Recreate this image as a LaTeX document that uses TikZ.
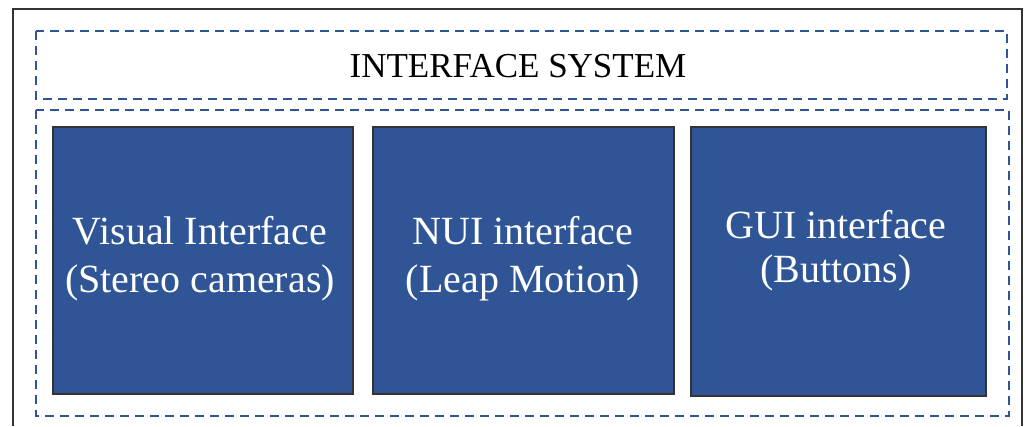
\documentclass[tikz,border=0pt]{standalone}
\usepackage{fontspec}
\setmainfont{Liberation Serif}
\definecolor{boxblue}{HTML}{2F5597}
\definecolor{edgegrey}{HTML}{333333}
\tikzset{
  frame/.style={draw=edgegrey, line width=2pt},
  groupbox/.style={draw=boxblue, line width=2pt, dash pattern=on 9pt off 6pt},
  unitbox/.style={draw=edgegrey, fill=boxblue, line width=1.5pt},
  unittext/.style={text=white, align=center, inner sep=0pt, font={\fontsize{40}{48}\selectfont}},
  titletext/.style={text=black, inner sep=0pt, anchor=base, font={\fontsize{35}{40}\selectfont}}
}
\begin{document}
\begin{tikzpicture}[x=1pt, y=-1pt]
  \useasboundingbox (0,0) rectangle (1026,426);
  % outer frame, open at the bottom
  \draw[frame] (13,426) -- (13,9) -- (1022,9) -- (1022,426);
  % header and body groups
  \draw[groupbox] (36,31) rectangle (1007,99);
  \draw[groupbox] (36,110) rectangle (1009,416);
  \node[titletext] (title) at (518,77) {INTERFACE SYSTEM};
  % interface units
  \draw[unitbox] (53,127) rectangle (353,394);
  \draw[unitbox] (373,127) rectangle (674,394);
  \draw[unitbox] (691,127) rectangle (986,396);
  \node[unittext] (visual) at (200,259) {Visual Interface\\(Stereo cameras)};
  \node[unittext] (nui) at (523,259) {NUI interface\\(Leap Motion)};
  \node[unittext, font={\fontsize{40}{44}\selectfont}] (gui) at (836,251) {GUI interface\\(Buttons)};
\end{tikzpicture}
\end{document}
